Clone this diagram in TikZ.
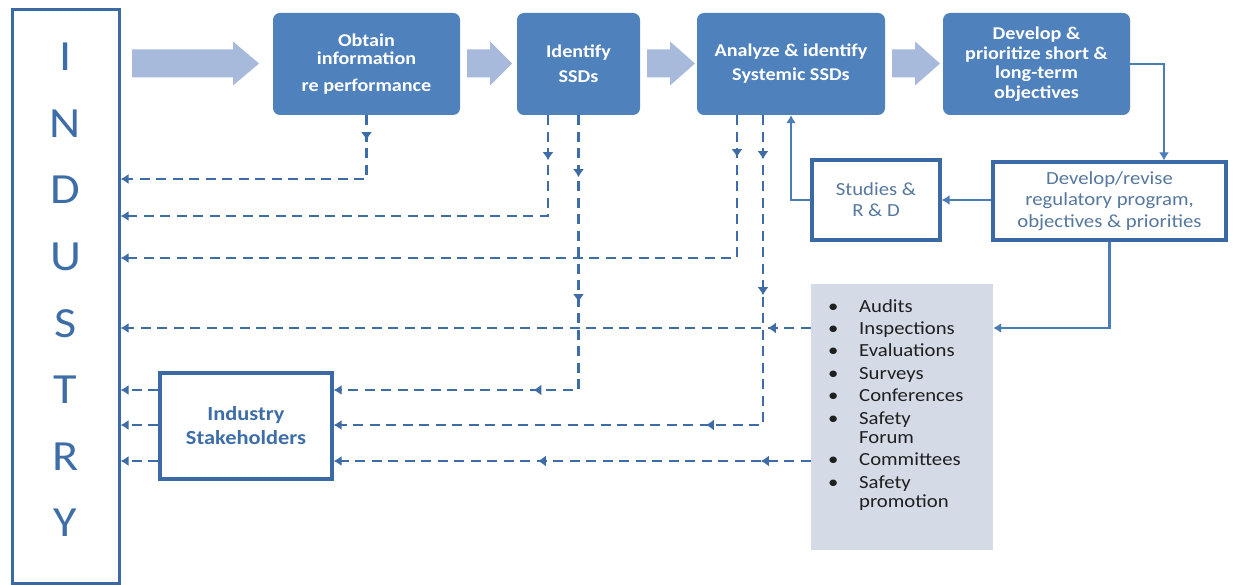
\documentclass[tikz,border=0pt]{standalone}
\usepackage{fontspec}
\setmainfont{Carlito}[FakeStretch=1.12]
\usetikzlibrary{arrows.meta,decorations.markings}
\definecolor{boxblue}{HTML}{4F81BD}
\definecolor{arrowfill}{HTML}{A8BADB}
\definecolor{lineblue}{HTML}{3D6CA6}
\definecolor{edgeblue}{HTML}{3A69A3}
\definecolor{solidblue}{HTML}{4A7CB8}
\definecolor{listfill}{HTML}{D4DBE7}
\definecolor{softtext}{HTML}{56779E}
\definecolor{listtext}{HTML}{1F1F1F}
\definecolor{indblue}{HTML}{3E6EA8}
\tikzset{
  stepbox/.style={fill=boxblue, draw=none, rounded corners=7pt, text=white,
    align=center, inner sep=0pt},
  outbox/.style={draw=edgeblue, line width=3.2pt, fill=white, align=center, inner sep=0pt},
  dconn/.style={draw=lineblue, color=lineblue, line width=2.7pt, dash pattern=on 10pt off 6.5pt,
    -{Latex[length=8pt,width=10pt]}},
  sconn/.style={draw=solidblue, color=solidblue, line width=2.4pt, -{Latex[length=8pt,width=10pt]}},
  marks/.style={postaction={decorate, decoration={markings,
      mark=at position #1 with {\pgfsetdash{}{0pt}\arrow{Latex[length=8pt,width=11pt]}}}}},
  indletter/.style={text=indblue, inner sep=0pt, font=\fontsize{43}{43}\selectfont},
  pics/blockarrow/.style n args={2}{code={
    \fill[arrowfill] (0,-14) -- (#1,-14) -- (#1,-22) -- (#2,0) -- (#1,22) -- (#1,14) -- (0,14) -- cycle;}}
}
\begin{document}
\begin{tikzpicture}[x=1pt,y=-1pt]
\useasboundingbox[fill=white] (0,0) rectangle (1233,585);

% INDUSTRY column
\node[draw=edgeblue, line width=3pt, minimum width=107, minimum height=573, inner sep=0] (ind) at (65.5,296.5) {};
\foreach \l [count=\i] in {I,N,D,U,S,T,R,Y}
  \node[indletter] (ind\i) at (65.5,{57+66.6*(\i-1)}) {\l};

% big block arrows
\pic at (132,63.5) {blockarrow={101}{127}};
\pic at (467,63.5) {blockarrow={23}{45}};
\pic at (647,63.5) {blockarrow={23}{48}};
\pic at (892,63.5) {blockarrow={23}{48}};

% process boxes
\node[stepbox, minimum width=187, minimum height=102, font=\fontsize{18}{18.5}\bfseries\selectfont] (b1) at (366.5,64)
  {Obtain\\information\\[8pt]re performance};
\node[stepbox, minimum width=123, minimum height=102, font=\fontsize{18}{25}\bfseries\selectfont] (b2) at (578.5,64)
  {Identify\\SSDs};
\node[stepbox, minimum width=188, minimum height=102, font=\fontsize{18}{24}\bfseries\selectfont] (b3) at (791,64)
  {Analyze \& identify\\Systemic SSDs};
\node[stepbox, minimum width=187, minimum height=102, font=\fontsize{18}{19.5}\bfseries\selectfont] (b4) at (1036.5,64)
  {Develop \&\\prioritize short \&\\long-term\\objectives};

\node[outbox, minimum width=233, minimum height=78, text=softtext, font=\fontsize{18.5}{21.5}\selectfont] (dev) at (1109.5,201)
  {Develop/revise\\regulatory program,\\objectives \& priorities};
\node[outbox, minimum width=128, minimum height=80, text=softtext, font=\fontsize{18.5}{21}\selectfont] (studies) at (876,200)
  {Studies \&\\R \& D};
\node[outbox, minimum width=172, minimum height=106, text=indblue, font=\fontsize{20}{24}\bfseries\selectfont] (stake) at (246,426)
  {Industry\\Stakeholders};

% activities list
\node[fill=listfill, minimum width=182, minimum height=266, inner sep=0] (list) at (902,417) {};
\node[anchor=base west, inner sep=0, text=listtext, font=\fontsize{18.5}{22.4}\selectfont] (items) at (828,312)
  {\begin{tabular}[t]{@{}p{31pt}@{}l@{}}
   \textbullet & Audits\\
   \textbullet & Inspections\\
   \textbullet & Evaluations\\
   \textbullet & Surveys\\
   \textbullet & Conferences\\
   \textbullet & Safety\\[-3pt]
               & Forum\\
   \textbullet & Committees\\
   \textbullet & Safety\\[-3pt]
               & promotion
   \end{tabular}};

% row coordinates
\coordinate (r1) at (0,179);
\coordinate (r2) at (0,216);
\coordinate (r3) at (0,258);
\coordinate (r4) at (0,328);
\coordinate (r5) at (0,390);
\coordinate (r6) at (0,425);
\coordinate (r7) at (0,461);

% dashed feedback connectors
\draw[dconn, marks=25pt] (b1.south) |- (ind.east |- r1);
\draw[dconn, marks=45pt] ([xshift=-30.5pt]b2.south) |- (ind.east |- r2);
\draw[dconn, marks=62pt, marks=187pt, marks=320pt] (b2.south) |- (stake.east |- r5);
\draw[dconn, marks=42pt] ([xshift=-54pt]b3.south) |- (ind.east |- r3);
\draw[dconn, marks=44pt, marks=180pt, marks=367pt] ([xshift=-28pt]b3.south) |- (stake.east |- r6);
\draw[dconn, marks=43pt] (list.west |- r4) -- (ind.east |- r4);
\draw[dconn, marks=50pt, marks=273pt] (list.west |- r7) -- (stake.east |- r7);
\draw[dconn] (stake.west |- r5) -- (ind.east |- r5);
\draw[dconn] (stake.west |- r6) -- (ind.east |- r6);
\draw[dconn] (stake.west |- r7) -- (ind.east |- r7);

% solid connectors
\draw[sconn] (b4.east) -| ([xshift=54.5pt]dev.north);
\draw[sconn] (dev.west |- studies.east) -- (studies.east);
\draw[sconn] (studies.west) -| (b3.south);
\draw[sconn] (dev.south) |- (list.east |- r4);
\end{tikzpicture}
\end{document}
